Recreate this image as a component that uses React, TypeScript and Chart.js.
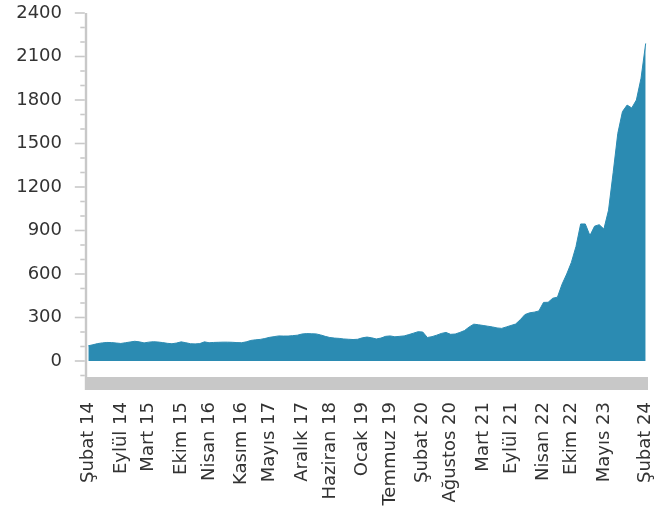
import { useEffect, useRef } from "react";
import { Chart, registerables } from "chart.js";

Chart.register(...registerables);

// Turkish month names
const MONTHS = ["Ocak", "Şubat", "Mart", "Nisan", "Mayıs", "Haziran", "Temmuz", "Ağustos", "Eylül", "Ekim", "Kasım", "Aralık"];
const START_MONTH_INDEX = 1; // Şubat
const START_YEAR = 14;
const MONTH_COUNT = 121; // Şubat 14 .. Şubat 24

const CATEGORIES: string[] = Array.from({ length: MONTH_COUNT }, (_, i) => {
  const k = START_MONTH_INDEX + i;
  return `${MONTHS[k % 12]} ${START_YEAR + Math.floor(k / 12)}`;
});

// Monthly values
const VALUES: number[] = [
  105, 112, 120, 125, 128, 127, 124, 121, 126, 131,
  136, 132, 125, 130, 133, 131, 127, 122, 119, 124,
  132, 126, 119, 118, 120, 132, 126, 128, 129, 130,
  130, 129, 127, 126, 132, 142, 146, 149, 155, 163,
  168, 173, 172, 172, 175, 178, 186, 189, 188, 187,
  180, 170, 162, 158, 156, 152, 150, 148, 150, 160,
  165, 160, 152, 158, 170, 173, 167, 170, 173, 182,
  192, 202, 200, 162, 168, 178, 190, 197, 184, 186,
  197, 210, 235, 254, 250, 245, 240, 235, 228, 225,
  235, 245, 255, 285, 320, 332, 337, 345, 404, 405,
  433, 440, 530, 600, 680, 790, 945, 945, 865, 930,
  940, 910, 1040, 1300, 1570, 1720, 1765, 1745, 1800, 1950, 2190,
];

const SHOWN_X_LABELS = [
  "Şubat 14", "Eylül 14", "Mart 15", "Ekim 15", "Nisan 16", "Kasım 16", "Mayıs 17",
  "Aralık 17", "Haziran 18", "Ocak 19", "Temmuz 19", "Şubat 20", "Ağustos 20", "Mart 21",
  "Eylül 21", "Nisan 22", "Ekim 22", "Mayıs 23", "Şubat 24",
];

const Y_TICKS = [0, 300, 600, 900, 1200, 1500, 1800, 2100, 2400];
const Y_MIN = -200;
const Y_MAX = 2400;
const MINOR_STEP = 100;

const AREA_COLOR = "#2b8bb2";
const AXIS_GRAY = "#c8c8c8";
const TEXT_COLOR = "#333333";
const FONT = { family: "'DejaVu Sans', Verdana, sans-serif", size: 18 };

const axisDecoration = {
  id: "axisDecoration",
  beforeDatasetsDraw(chart: any) {
    const { ctx, chartArea } = chart;
    ctx.save();
    ctx.fillStyle = AXIS_GRAY;
    ctx.fillRect(chartArea.left - 1, chartArea.bottom - 13, chartArea.right - chartArea.left + 1, 13);
    ctx.restore();
  },
  afterDraw(chart: any) {
    const { ctx, chartArea } = chart;
    const ys = chart.scales.y;
    ctx.save();
    ctx.fillStyle = AXIS_GRAY;
    ctx.fillRect(chartArea.left - 1.2, chartArea.top, 2.4, chartArea.bottom - chartArea.top);
    ctx.strokeStyle = AXIS_GRAY;
    ctx.lineWidth = 1.6;
    for (let v = Y_MIN + MINOR_STEP; v <= Y_MAX; v += MINOR_STEP) {
      const y = ys.getPixelForValue(v);
      const major = Y_TICKS.includes(v);
      const len = major ? 10 : 4.5;
      ctx.beginPath();
      ctx.moveTo(chartArea.left - 1.2 - len, y);
      ctx.lineTo(chartArea.left - 1.2, y);
      ctx.stroke();
    }
    ctx.restore();
  },
};

export default function App() {
  const canvasRef = useRef<HTMLCanvasElement | null>(null);

  useEffect(() => {
    if (!canvasRef.current) return;
    const chart = new Chart(canvasRef.current, {
      type: "line",
      data: {
        labels: CATEGORIES,
        datasets: [
          {
            data: VALUES,
            borderColor: AREA_COLOR,
            backgroundColor: AREA_COLOR,
            borderWidth: 1,
            fill: "origin",
            pointRadius: 0,
            tension: 0,
          },
        ],
      },
      options: {
        animation: false,
        responsive: false,
        layout: { padding: { top: 13, right: 23, left: 0, bottom: 0 } },
        plugins: { legend: { display: false }, tooltip: { enabled: false } },
        scales: {
          x: {
            type: "category",
            offset: true,
            grid: { display: false, drawTicks: false },
            border: { display: false },
            ticks: {
              autoSkip: false,
              maxRotation: 90,
              minRotation: 90,
              padding: 12,
              color: TEXT_COLOR,
              font: FONT,
              callback: (_v: any, i: number) => (SHOWN_X_LABELS.includes(CATEGORIES[i]) ? CATEGORIES[i] : ""),
            },
            afterFit: (s: any) => {
              s.height = 125;
              s.paddingLeft = 0;
              s.paddingRight = 0;
            },
          },
          y: {
            type: "linear",
            min: Y_MIN,
            max: Y_MAX,
            grid: { display: false, drawTicks: false },
            border: { display: false },
            afterBuildTicks: (s: any) => {
              s.ticks = Y_TICKS.map((v) => ({ value: v }));
            },
            ticks: {
              padding: 24,
              color: TEXT_COLOR,
              font: FONT,
              callback: (v: any) => String(v),
            },
            afterFit: (s: any) => {
              s.width = 86;
              s.paddingTop = 0;
              s.paddingBottom = 0;
            },
          },
        },
      },
      plugins: [axisDecoration],
    });
    return () => chart.destroy();
  }, []);

  return (
    <div style={{ position: "absolute", left: 0, top: 0, width: 671, height: 515 }}>
      <canvas ref={canvasRef} width={671} height={515} />
    </div>
  );
}
